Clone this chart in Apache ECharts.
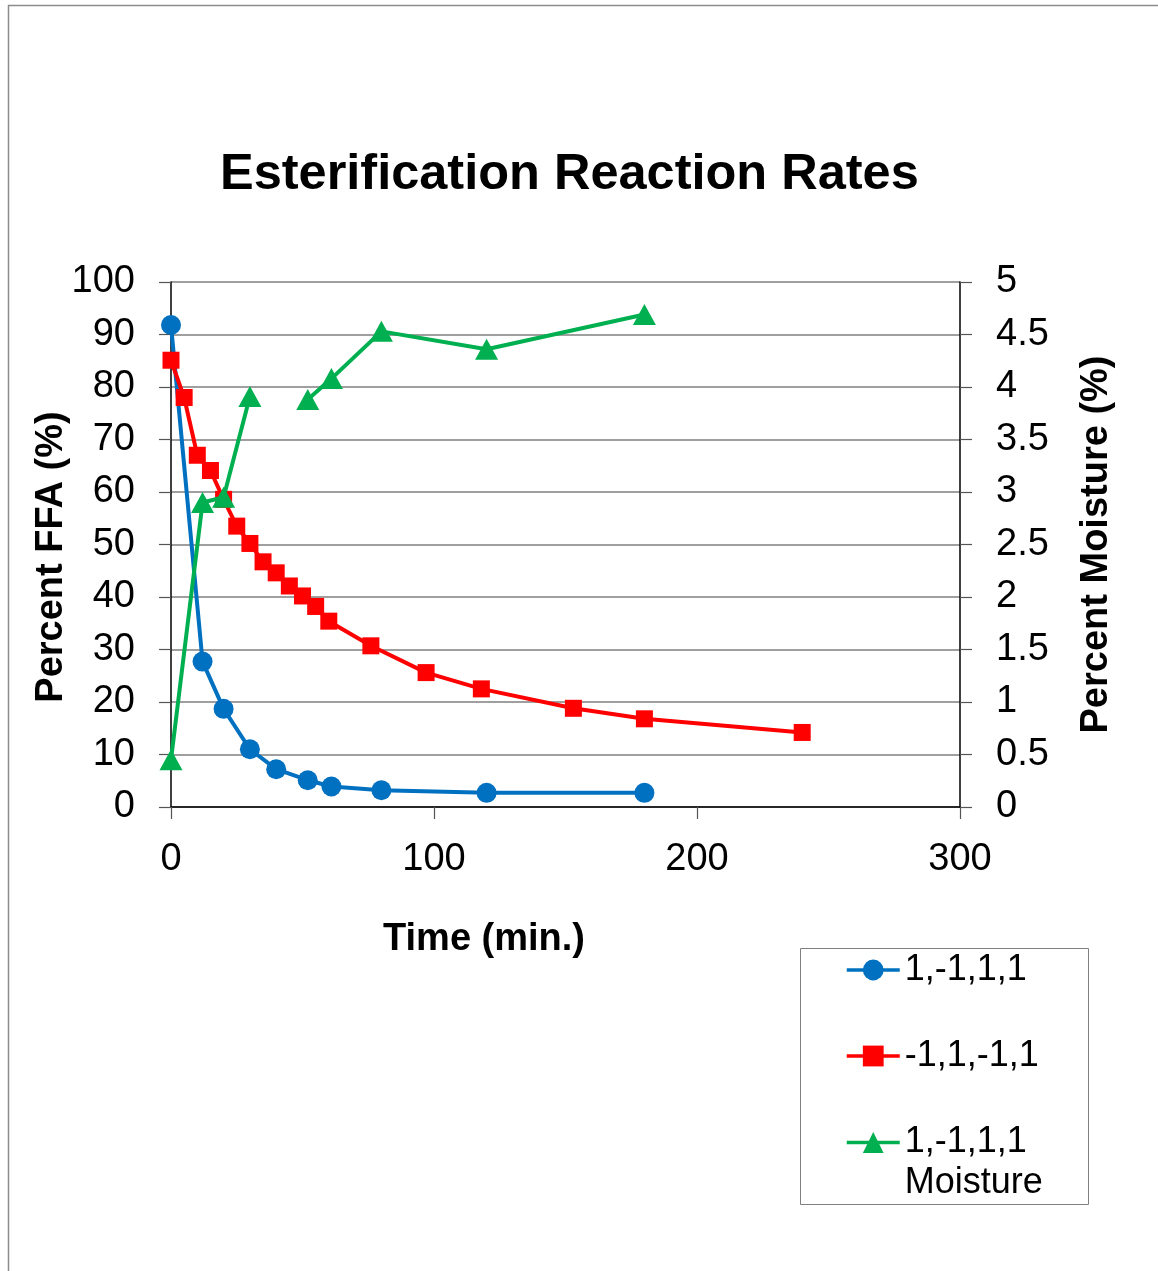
<!DOCTYPE html>
<html>
<head>
<meta charset="utf-8">
<script src="https://cdn.jsdelivr.net/npm/echarts@6/dist/echarts.min.js"></script>
<style>
html,body{margin:0;padding:0;background:#fff;}
#chart{width:1158px;height:1271px;}
</style>
</head>
<body>
<div id="chart"></div>
<script>
// Time (min.) shared by the 1,-1,1,1 runs
const timeA = [0, 12, 20, 30, 40, 52, 61, 80, 120, 180];
const ffaA = [91.8, 27.7, 18.7, 11.0, 7.2, 5.1, 3.9, 3.2, 2.7, 2.7];
// Moisture (%) for 1,-1,1,1 (no reading at 40 min)
const moistA = [0.45, 2.9, 2.95, 3.91, null, 3.88, 4.08, 4.53, 4.36, 4.69];
// -1,1,-1,1 run
const timeB = [0, 5, 10, 15, 20, 25, 30, 35, 40, 45, 50, 55, 60, 76, 97, 118, 153, 180, 240];
const ffaB = [85.1, 78.0, 67.0, 64.1, 58.6, 53.5, 50.2, 46.7, 44.6, 42.1, 40.2, 38.2, 35.4, 30.7, 25.6, 22.5, 18.8, 16.8, 14.2];

const nameA = '1,-1,1,1';
const nameB = '-1,1,-1,1';
const nameM = '1,-1,1,1 Moisture';

const FONT = "'Liberation Sans', Arial, sans-serif";
const pairs = (xs, ys) => xs.map((x, i) => [x, ys[i]]);

const chart = echarts.init(document.getElementById('chart'), null, {renderer: 'canvas'});
chart.setOption({
  animation: false,
  backgroundColor: '#fff',
  textStyle: {fontFamily: FONT},
  title: {
    text: 'Esterification Reaction Rates',
    left: 220, top: 150,
    padding: 0,
    textStyle: {fontSize: 50.5, fontWeight: 'bold', color: '#000', fontFamily: FONT}
  },
  grid: {left: 171, right: 198, top: 282, bottom: 464, containLabel: false},
  xAxis: {
    type: 'value', min: 0, max: 300, interval: 100,
    name: 'Time (min.)', nameLocation: 'middle', nameGap: 114, nameMoveOverlap: false,
    nameTextStyle: {fontSize: 38, fontWeight: 'bold', color: '#000', fontFamily: FONT, padding: [0, 163, 0, 0]},
    axisLine: {show: true, lineStyle: {color: '#000', width: 1.5}},
    axisTick: {show: true, length: 12, lineStyle: {color: '#555', width: 1.2}},
    axisLabel: {fontSize: 38, color: '#000', margin: 34, fontFamily: FONT},
    splitLine: {show: false}
  },
  yAxis: [{
    type: 'value', min: 0, max: 100, interval: 10, position: 'left',
    name: 'Percent FFA (%)', nameLocation: 'middle', nameGap: 100, nameRotate: 90, nameMoveOverlap: false,
    nameTextStyle: {fontSize: 38, fontWeight: 'bold', color: '#000', fontFamily: FONT, padding: [0, 25, 0, 0]},
    axisLine: {show: true, lineStyle: {color: '#000', width: 1.5}},
    axisTick: {show: true, length: 12, lineStyle: {color: '#555', width: 1.2}},
    axisLabel: {fontSize: 38, color: '#000', margin: 36, fontFamily: FONT, lineHeight: 44, verticalAlign: 'middle', padding: [6, 0, 0, 0]},
    splitLine: {show: true, lineStyle: {color: '#7f7f7f', width: 1.5}}
  }, {
    type: 'value', min: 0, max: 5, interval: 0.5, position: 'right',
    name: 'Percent Moisture (%)', nameLocation: 'middle', nameGap: 118, nameRotate: 90, nameMoveOverlap: false,
    nameTextStyle: {fontSize: 38, fontWeight: 'bold', color: '#000', fontFamily: FONT},
    axisLine: {show: true, lineStyle: {color: '#000', width: 1.5}},
    axisTick: {show: true, length: 12, lineStyle: {color: '#555', width: 1.2}},
    axisLabel: {fontSize: 38, color: '#000', margin: 36, fontFamily: FONT, lineHeight: 44, verticalAlign: 'middle', padding: [6, 0, 0, 0]},
    splitLine: {show: false}
  }],
  legend: [{
    orient: 'vertical', left: 845, top: 950, padding: 0,
    itemWidth: 53, itemHeight: 26, itemGap: 46,
    data: [nameA, nameB],
    lineStyle: {width: 3.5},
    textStyle: {fontSize: 36, lineHeight: 40, color: '#000', fontFamily: FONT}
  }, {
    orient: 'vertical', left: 845, top: 1081, padding: 0,
    itemWidth: 53, itemHeight: 26,
    data: [nameM],
    lineStyle: {width: 3.5},
    formatter: () => '\n1,-1,1,1\nMoisture',
    textStyle: {fontSize: 36, lineHeight: 41, color: '#000', fontFamily: FONT}
  }],
  graphic: [
    {type: 'polyline', shape: {points: [[8.5, 1271], [8.5, 5.5], [1158, 5.5]]}, style: {stroke: '#8c8c8c', lineWidth: 1.5, fill: null}, silent: true},
    {type: 'rect', shape: {x: 800.5, y: 948.5, width: 288, height: 256}, style: {stroke: '#7f7f7f', lineWidth: 1, fill: null}, silent: true, z: -1}
  ],
  series: [{
    name: nameA, type: 'line', yAxisIndex: 0,
    data: pairs(timeA, ffaA),
    symbol: 'circle', symbolSize: 20,
    lineStyle: {color: '#0070C0', width: 4},
    itemStyle: {color: '#0070C0'},
    z: 2
  }, {
    name: nameB, type: 'line', yAxisIndex: 0,
    data: pairs(timeB, ffaB),
    symbol: 'rect', symbolSize: 17,
    lineStyle: {color: '#FF0000', width: 4},
    itemStyle: {color: '#FF0000'},
    z: 3
  }, {
    name: nameM, type: 'line', yAxisIndex: 1,
    data: pairs(timeA, moistA),
    connectNulls: false,
    symbol: 'triangle', symbolSize: [23, 21],
    lineStyle: {color: '#00B050', width: 4},
    itemStyle: {color: '#00B050'},
    z: 4
  }]
});
</script>
</body>
</html>
